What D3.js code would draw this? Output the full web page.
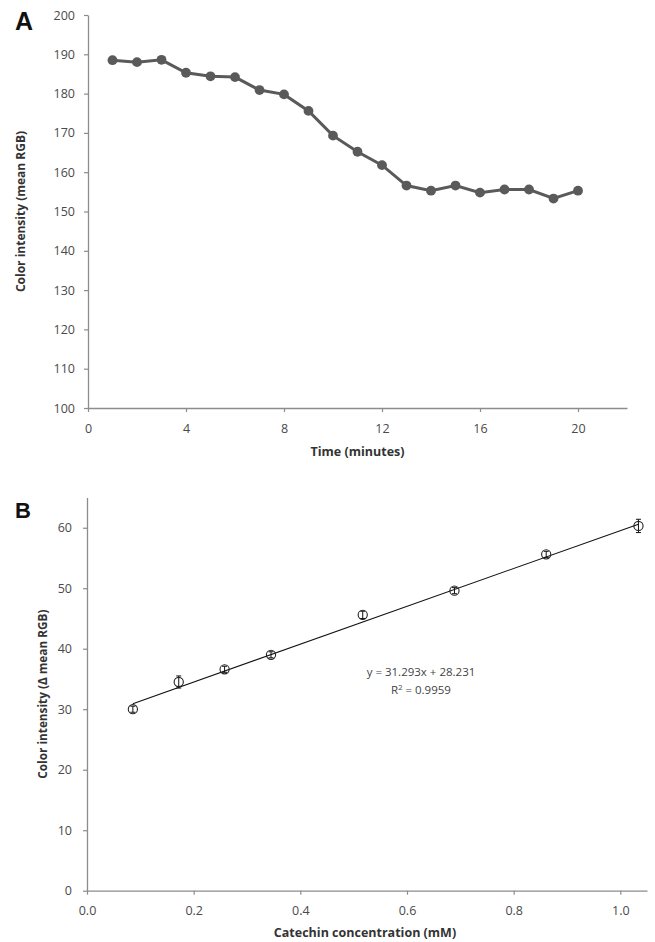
<!DOCTYPE html>
<html>
<head>
<meta charset="utf-8">
<script src="https://cdn.jsdelivr.net/npm/d3@7"></script>
<style>
  body { margin: 0; background: #fff; }
  text { font-family: "Open Sans", sans-serif; }
</style>
</head>
<body>
<div id="chart"></div>
<script>
// panel A: colour intensity over time
const timeMinutes = [1, 2, 3, 4, 5, 6, 7, 8, 9, 10, 11, 12, 13, 14, 15, 16, 17, 18, 19, 20];
const meanRGB = [188.5, 188.0, 188.6, 185.3, 184.4, 184.2, 180.9, 179.8, 175.6, 169.3,
                 165.2, 161.8, 156.6, 155.3, 156.6, 154.8, 155.6, 155.6, 153.3, 155.3];
const timeTicks = [0, 4, 8, 12, 16, 20];
const rgbTicks = [100, 110, 120, 130, 140, 150, 160, 170, 180, 190, 200];

// panel B: calibration with catechin
const catechinMM = [0.086, 0.172, 0.258, 0.345, 0.517, 0.689, 0.861, 1.034];
const deltaRGB = [30.0, 34.5, 36.6, 39.0, 45.6, 49.6, 55.6, 60.3];
const deltaErr = [0.5, 1.0, 0.5, 0.5, 0.6, 0.5, 0.5, 1.1];
const concTicks = [0, 0.2, 0.4, 0.6, 0.8, 1.0];
const deltaTicks = [0, 10, 20, 30, 40, 50, 60];
const slope = 31.293, intercept = 28.231, r2 = 0.9959;

const W = 655, H = 942;
const axisGrey = "#8c8c8c", labelGrey = "#4a4a4a";

const svg = d3.select("#chart").append("svg")
    .attr("width", W)
    .attr("height", H);

function styleAxis(g) {
  g.select(".domain").attr("stroke", axisGrey).attr("stroke-width", 1.3);
  g.selectAll(".tick line").attr("stroke", axisGrey).attr("stroke-width", 1.2);
  g.selectAll(".tick text").attr("fill", labelGrey).style("font-size", "12.5px")
    .style("font-family", "'Open Sans', sans-serif");
}

// ---------- A ----------
const xA = d3.scaleLinear().domain([0, 22]).range([88, 627]);
const yA = d3.scaleLinear().domain([100, 200]).range([408, 15]);

svg.append("g")
    .attr("transform", `translate(0,${yA(100)})`)
    .call(d3.axisBottom(xA).tickValues(timeTicks).tickSize(4).tickSizeOuter(0).tickPadding(12))
    .call(styleAxis);

svg.append("g")
    .attr("transform", `translate(${xA(0)},0)`)
    .call(d3.axisLeft(yA).tickValues(rgbTicks).tickSize(4).tickSizeOuter(0).tickPadding(9))
    .call(styleAxis);

const ptsA = timeMinutes.map((t, i) => [t, meanRGB[i]]);

svg.append("path")
    .datum(ptsA)
    .attr("fill", "none")
    .attr("stroke", "#5a5a5a")
    .attr("stroke-width", 3)
    .attr("d", d3.line().x(d => xA(d[0])).y(d => yA(d[1])));

svg.selectAll(".dotA")
    .data(ptsA)
    .join("circle")
    .attr("class", "dotA")
    .attr("cx", d => xA(d[0]))
    .attr("cy", d => yA(d[1]))
    .attr("r", 4.9)
    .attr("fill", "#5a5a5a");

svg.append("text")
    .attr("x", xA(11)).attr("y", 456)
    .attr("text-anchor", "middle")
    .style("font-size", "12.5px").style("font-weight", "bold").attr("fill", "#333")
    .text("Time (minutes)");

svg.append("text")
    .attr("transform", `translate(25,${(yA(100) + yA(200)) / 2}) rotate(-90)`)
    .attr("text-anchor", "middle")
    .style("font-size", "12px").style("font-weight", "bold").attr("fill", "#333")
    .text("Color intensity (mean RGB)");

svg.append("text")
    .attr("x", 15).attr("y", 30)
    .style("font-family", "'Liberation Sans', Arial, sans-serif")
    .style("font-size", "25px").style("font-weight", "bold").attr("fill", "#111")
    .text("A");

// ---------- B ----------
const xB = d3.scaleLinear().domain([0, 1.05]).range([87, 647]);
const yB = d3.scaleLinear().domain([0, 65]).range([890.7, 497.5]);

svg.append("g")
    .attr("transform", `translate(0,${yB(0)})`)
    .call(d3.axisBottom(xB).tickValues(concTicks).tickFormat(d3.format(".1f"))
      .tickSize(4).tickSizeOuter(0).tickPadding(11))
    .call(styleAxis);

svg.append("g")
    .attr("transform", `translate(${xB(0)},0)`)
    .call(d3.axisLeft(yB).tickValues(deltaTicks).tickSize(4).tickSizeOuter(0).tickPadding(11))
    .call(styleAxis);

// linear trend line
const x0 = catechinMM[0], x1 = catechinMM[catechinMM.length - 1];
svg.append("line")
    .attr("x1", xB(x0)).attr("y1", yB(slope * x0 + intercept))
    .attr("x2", xB(x1)).attr("y2", yB(slope * x1 + intercept))
    .attr("stroke", "#111").attr("stroke-width", 1.1);

const ptsB = catechinMM.map((c, i) => ({ c, v: deltaRGB[i], e: deltaErr[i] }));

const gB = svg.selectAll(".ptB").data(ptsB).join("g").attr("class", "ptB");
gB.append("line")
    .attr("x1", d => xB(d.c)).attr("x2", d => xB(d.c))
    .attr("y1", d => yB(d.v - d.e)).attr("y2", d => yB(d.v + d.e))
    .attr("stroke", "#111").attr("stroke-width", 1);
gB.append("line")
    .attr("x1", d => xB(d.c) - 2.5).attr("x2", d => xB(d.c) + 2.5)
    .attr("y1", d => yB(d.v + d.e)).attr("y2", d => yB(d.v + d.e))
    .attr("stroke", "#111").attr("stroke-width", 1);
gB.append("line")
    .attr("x1", d => xB(d.c) - 2.5).attr("x2", d => xB(d.c) + 2.5)
    .attr("y1", d => yB(d.v - d.e)).attr("y2", d => yB(d.v - d.e))
    .attr("stroke", "#111").attr("stroke-width", 1);
gB.append("circle")
    .attr("cx", d => xB(d.c)).attr("cy", d => yB(d.v))
    .attr("r", 4.6)
    .attr("fill", "none").attr("stroke", "#222").attr("stroke-width", 1.1);

const eq = svg.append("text")
    .attr("text-anchor", "middle")
    .style("font-size", "11.5px").attr("fill", "#444");
eq.append("tspan").attr("x", 421).attr("y", 676).text(`y = ${slope}x + ${intercept}`);
const r2line = eq.append("tspan").attr("x", 421).attr("y", 694);
r2line.append("tspan").text("R");
r2line.append("tspan").attr("dy", -4).style("font-size", "7.5px").text("2");
r2line.append("tspan").attr("dy", 4).text(` = ${r2}`);

svg.append("text")
    .attr("x", 365).attr("y", 937)
    .attr("text-anchor", "middle")
    .style("font-size", "12.5px").style("font-weight", "bold").attr("fill", "#333")
    .text("Catechin concentration (mM)");

svg.append("text")
    .attr("transform", `translate(47,${(yB(0) + yB(65)) / 2}) rotate(-90)`)
    .attr("text-anchor", "middle")
    .style("font-size", "11.8px").style("font-weight", "bold").attr("fill", "#333")
    .text("Color intensity (Δ mean RGB)");

svg.append("text")
    .attr("x", 15).attr("y", 518)
    .style("font-family", "'Liberation Sans', Arial, sans-serif")
    .style("font-size", "22px").style("font-weight", "bold").attr("fill", "#111")
    .text("B");
</script>
</body>
</html>
